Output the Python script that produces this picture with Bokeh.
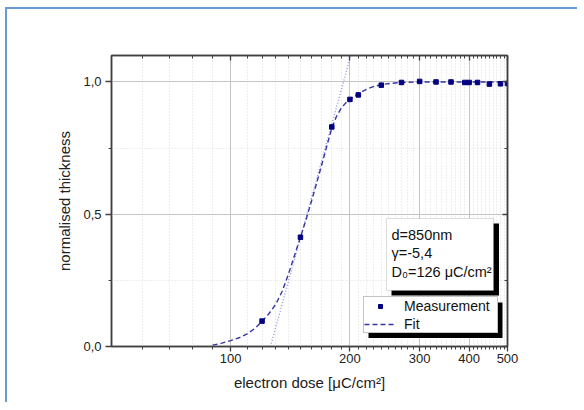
import math
from bokeh.plotting import figure
from bokeh.models import (FixedTicker, LogAxis, LinearAxis, Range1d, BoxAnnotation,
                          Label, Legend, LegendItem, CustomJSTickFormatter)
from bokeh.embed import file_html
from bokeh.resources import INLINE

# ---------------- data ----------------
meas_dose = [120, 150, 180, 200, 210, 240, 270, 300, 330, 360, 390, 400, 420, 450, 480, 500]
meas_thick = [0.096, 0.413, 0.83, 0.934, 0.951, 0.988, 0.998, 1.002, 1.0, 1.0,
              0.998, 0.998, 0.998, 0.992, 0.993, 0.994]

fit_dose = [90, 95, 100, 105, 110, 115, 120, 125, 130, 135, 140, 145, 150, 155, 160,
            165, 170, 175, 180, 185, 190, 195, 200, 210, 220, 230, 240, 255, 270, 300,
            350, 400, 450, 500]
fit_thick = [0.005, 0.013, 0.022, 0.033, 0.048, 0.068, 0.095, 0.125, 0.16, 0.21, 0.275,
             0.345, 0.413, 0.48, 0.55, 0.62, 0.69, 0.76, 0.825, 0.87, 0.9, 0.92, 0.935,
             0.955, 0.972, 0.983, 0.99, 0.995, 0.998, 1.0, 1.0, 1.0, 1.0, 1.0]

tangent_dose = [126, 201]
tangent_thick = [0.0, 1.1]

x_ticks = [100, 200, 300, 400, 500]
x_tick_labels = ["100", "200", "300", "400", "500"]
y_ticks = [0.0, 0.5, 1.0]
y_tick_labels = ["0,0", "0,5", "1,0"]
y_minor = [0.25, 0.75]

info_lines = ["d=850nm", "\u03b3=-5,4", "D\u2080=126 \u03bcC/cm\u00b2"]

# ---------------- layout ----------------
X0, X1 = 50, 500
Y0, Y1 = 0.0, 1.1
FW, FH = 396, 291
FONT = "Liberation Sans"
AX = "#404040"


def dx(px):
    return X0 * 10 ** (px / FW * math.log10(X1 / X0))


def dy(py):
    return Y0 + py / FH * (Y1 - Y0)


x_minor = [v for v in range(60, 500, 10) if v not in x_ticks]

p = figure(frame_width=FW, frame_height=FH, x_axis_type="log",
           x_range=Range1d(X0, X1), y_range=Range1d(Y0, Y1),
           output_backend="svg", toolbar_location=None,
           min_border_left=104, min_border_right=70, min_border_top=46, min_border_bottom=56,
           background_fill_color="white", border_fill_color="white")
p.styles = {"border-left": "2px solid #6a9ad8", "border-top": "2px solid #6a9ad8",
            "margin-left": "5px", "margin-top": "7px"}

xt = FixedTicker(ticks=x_ticks, minor_ticks=x_minor)
yt = FixedTicker(ticks=y_ticks, minor_ticks=y_minor)

fmt_x = CustomJSTickFormatter(code="return Math.round(tick).toString();")
fmt_y = CustomJSTickFormatter(code="return tick.toFixed(1).replace('.', ',');")
fmt_none = CustomJSTickFormatter(code="return '';")

p.outline_line_color = AX
p.outline_line_width = 1.5

# bottom / left axes
for ax, t, f, lab in ((p.xaxis[0], xt, fmt_x, "electron dose [\u03bcC/cm\u00b2]"),
                      (p.yaxis[0], yt, fmt_y, "normalised thickness")):
    ax.ticker = t
    ax.formatter = f
    ax.axis_label = lab
    ax.axis_label_text_font = FONT
    ax.axis_label_text_font_size = "15px"
    ax.axis_label_text_font_style = "normal"
    ax.axis_label_text_color = "#222222"
    ax.major_label_text_font = FONT
    ax.major_label_text_font_size = "13px"
    ax.major_label_text_color = "#222222"
    ax.axis_line_color = AX
    ax.axis_line_width = 1.5
    ax.major_tick_line_color = AX
    ax.minor_tick_line_color = AX
    ax.major_tick_line_width = 1.3
    ax.minor_tick_line_width = 1
    ax.major_tick_in = 0
    ax.minor_tick_in = 0
    ax.minor_tick_out = 3

p.xaxis[0].major_label_overrides = dict(zip(x_ticks, x_tick_labels))
p.yaxis[0].major_label_overrides = dict(zip(y_ticks, y_tick_labels))
p.xaxis[0].major_tick_out = 5
p.xaxis[0].major_label_standoff = 2
p.xaxis[0].axis_label_standoff = 8
p.yaxis[0].major_tick_out = 6
p.yaxis[0].major_label_standoff = 4
p.yaxis[0].axis_label_standoff = 7

# mirrored top / right axes with inward ticks
top = LogAxis(ticker=xt, formatter=fmt_none)
right = LinearAxis(ticker=yt, formatter=fmt_none)
for ax in (top, right):
    ax.major_label_standoff = 0
    ax.axis_line_color = AX
    ax.axis_line_width = 1.5
    ax.major_tick_line_color = AX
    ax.minor_tick_line_color = AX
    ax.major_tick_line_width = 1.3
    ax.minor_tick_line_width = 1
    ax.major_tick_in = 5
    ax.major_tick_out = 0
    ax.minor_tick_in = 3
    ax.minor_tick_out = 0
p.add_layout(top, "above")
p.add_layout(right, "right")

# grids
p.xgrid.ticker = xt
p.ygrid.ticker = yt
for g in (p.xgrid[0], p.ygrid[0]):
    g.grid_line_color = "#c4c4c4"
    g.grid_line_width = 1
    g.minor_grid_line_color = "#dcdcdc"
    g.minor_grid_line_dash = "1 2"
    g.minor_grid_line_width = 1

# data
r_tan = p.line(tangent_dose, tangent_thick, line_color="#9393e0", line_width=1.4,
               line_dash="1 2")
r_fit = p.line(fit_dose, fit_thick, line_color="#3535a5", line_width=1.4, line_dash="5 3")
r_meas = p.scatter(meas_dose, meas_thick, marker="square", size=4.5,
                   fill_color="#000080", line_color="#000080")

# info box with shadow
p.add_layout(BoxAnnotation(left=dx(280), right=dx(387.5), bottom=dy(51), top=dy(123),
                           fill_color="black", fill_alpha=1, line_color=None,
                           level="annotation"))
p.add_layout(BoxAnnotation(left=dx(275), right=dx(382), bottom=dy(56), top=dy(128),
                           fill_color="white", fill_alpha=1, line_color="#8a8a8a",
                           line_width=1, level="annotation"))
for txt, yy in zip(info_lines, (112, 93.5, 75)):
    p.add_layout(Label(x=dx(280), y=dy(yy), text=txt, text_baseline="middle",
                       text_font=FONT, text_font_size="14.5px", text_color="#111111"))

# legend with shadow
p.add_layout(BoxAnnotation(left=dx(257), right=dx(391), bottom=dy(8.5), top=dy(44),
                           fill_color="black", fill_alpha=1, line_color=None,
                           level="annotation"))
legend = Legend(items=[LegendItem(label="Measurement", renderers=[r_meas]),
                       LegendItem(label="Fit", renderers=[r_fit])],
                location=(252, 13), margin=0, padding=0, spacing=1,
                glyph_width=32, glyph_height=10, label_height=17, label_width=93,
                label_standoff=8, label_text_font=FONT, label_text_font_size="14px",
                label_text_color="#111111",
                border_line_color="#8a8a8a", border_line_width=1,
                background_fill_color="white", background_fill_alpha=1)
p.add_layout(legend, "center")

open("out.html", "w").write(file_html(p, INLINE))
